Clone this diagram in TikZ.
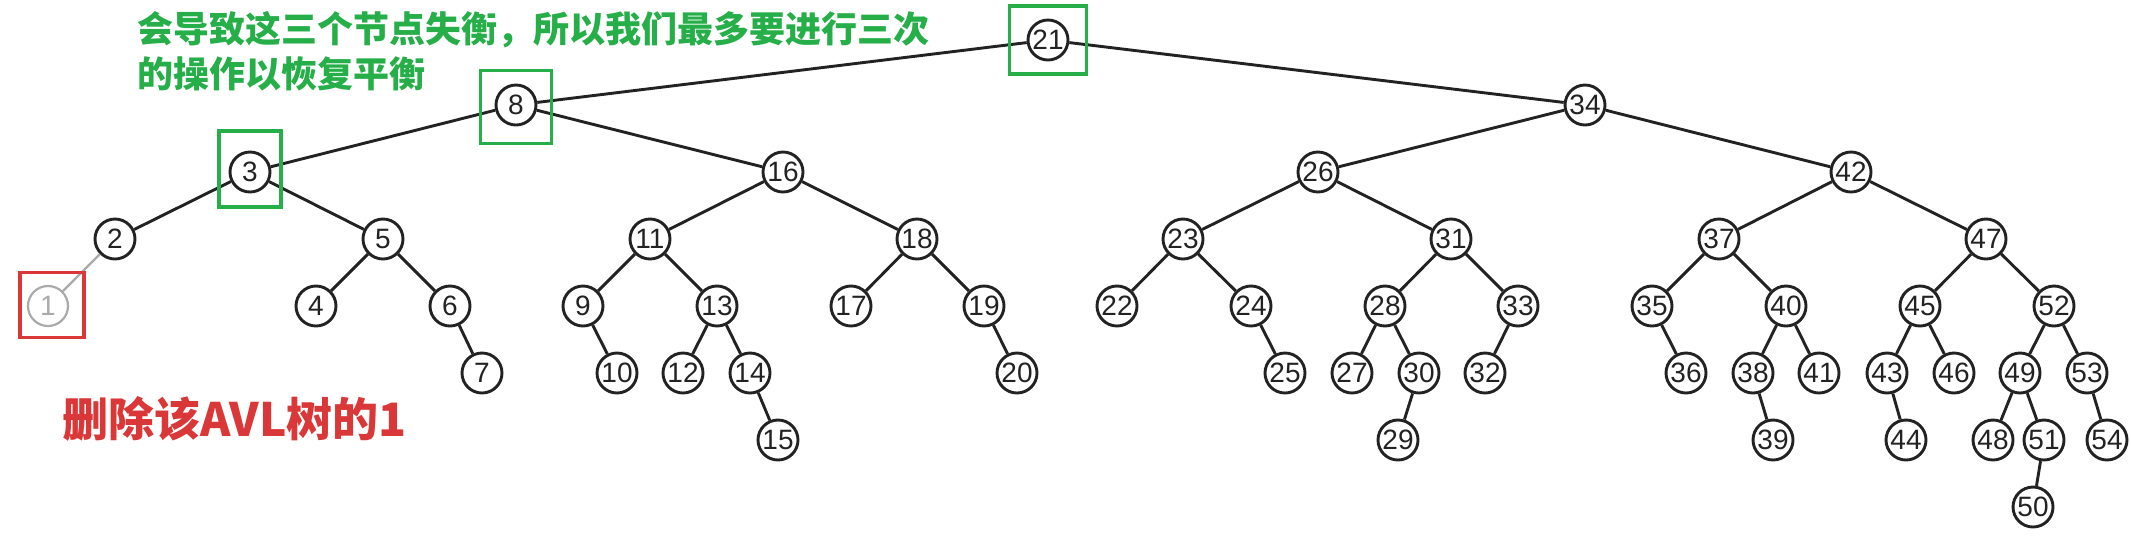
\documentclass[tikz,border=0pt]{standalone}
\usepackage{fontspec}
\usepackage{tikz}
\usetikzlibrary{positioning}
\setmainfont{Liberation Sans}
\newfontfamily\cjk{Noto Sans CJK SC}
\definecolor{treeline}{RGB}{34,34,34}
\definecolor{gonegray}{RGB}{170,170,170}
\definecolor{hlgreen}{RGB}{38,174,72}
\definecolor{hlred}{RGB}{218,56,56}
\tikzset{
  avl/.style={circle,draw=treeline,line width=1.45pt,fill=white,minimum size=20pt,
    inner sep=0pt,text=treeline,font=\fontsize{14pt}{15pt}\selectfont},
  gone/.style={avl,draw=gonegray,text=gonegray,line width=1.1pt},
  unbal/.style={draw=hlgreen,line width=1.6pt,inner sep=0pt},
  delbox/.style={draw=hlred,line width=1.6pt,inner sep=0pt},
}

\begin{document}
\begin{tikzpicture}[
  x=0.5pt,y=-0.5pt,
  every edge/.style={draw=treeline,line width=1.45pt}
]
\useasboundingbox (0,0) rectangle (2131,538);

% level 0 - 2
\node[avl] (n21) at (1048,40) {21};
\node[avl] (n8)  at (516,105) {8};
\node[avl] (n34) at (1585,105) {34};
\node[avl] (n3)  at (250,172) {3};
\node[avl] (n16) at (783,172) {16};
\node[avl] (n26) at (1318,172) {26};
\node[avl] (n42) at (1851,172) {42};

% level 3
\node[avl] (n2)  at (115,239) {2};
\node[avl] (n5)  at (383,239) {5};
\node[avl] (n11) at (650,239) {11};
\node[avl] (n18) at (917,239) {18};
\node[avl] (n23) at (1183,239) {23};
\node[avl] (n31) at (1451,239) {31};
\node[avl] (n37) at (1719,239) {37};
\node[avl] (n47) at (1986,239) {47};

% level 4
\node[gone] (n1) at (48,306) {1};
\node[avl] (n4)  at (316,306) {4};
\node[avl] (n6)  at (450,306) {6};
\node[avl] (n9)  at (583,306) {9};
\node[avl] (n13) at (717,306) {13};
\node[avl] (n17) at (851,306) {17};
\node[avl] (n19) at (984,306) {19};
\node[avl] (n22) at (1117,306) {22};
\node[avl] (n24) at (1251,306) {24};
\node[avl] (n28) at (1385,306) {28};
\node[avl] (n33) at (1518,306) {33};
\node[avl] (n35) at (1652,306) {35};
\node[avl] (n40) at (1786,306) {40};
\node[avl] (n45) at (1920,306) {45};
\node[avl] (n52) at (2054,306) {52};

% level 5
\node[avl] (n7)  at (482,373) {7};
\node[avl] (n10) at (617,373) {10};
\node[avl] (n12) at (683,373) {12};
\node[avl] (n14) at (750,373) {14};
\node[avl] (n20) at (1017,373) {20};
\node[avl] (n25) at (1285,373) {25};
\node[avl] (n27) at (1352,373) {27};
\node[avl] (n30) at (1419,373) {30};
\node[avl] (n32) at (1485,373) {32};
\node[avl] (n36) at (1686,373) {36};
\node[avl] (n38) at (1753,373) {38};
\node[avl] (n41) at (1819,373) {41};
\node[avl] (n43) at (1887,373) {43};
\node[avl] (n46) at (1954,373) {46};
\node[avl] (n49) at (2020,373) {49};
\node[avl] (n53) at (2087,373) {53};

% level 6 - 7
\node[avl] (n15) at (778,440) {15};
\node[avl] (n29) at (1398,440) {29};
\node[avl] (n39) at (1773,440) {39};
\node[avl] (n44) at (1906,440) {44};
\node[avl] (n48) at (1993,440) {48};
\node[avl] (n51) at (2044,440) {51};
\node[avl] (n54) at (2107,440) {54};
\node[avl] (n50) at (2033,507) {50};

\path
(n21) edge (n8)   (n21) edge (n34)
(n8)  edge (n3)   (n8)  edge (n16)
(n34) edge (n26)  (n34) edge (n42)
(n3)  edge (n2)   (n3)  edge (n5)
(n16) edge (n11)  (n16) edge (n18)
(n26) edge (n23)  (n26) edge (n31)
(n42) edge (n37)  (n42) edge (n47)
(n5)  edge (n4)   (n5)  edge (n6)   (n6)  edge (n7)
(n11) edge (n9)   (n11) edge (n13)  (n9)  edge (n10)
(n13) edge (n12)  (n13) edge (n14)  (n14) edge (n15)
(n18) edge (n17)  (n18) edge (n19)  (n19) edge (n20)
(n23) edge (n22)  (n23) edge (n24)  (n24) edge (n25)
(n31) edge (n28)  (n31) edge (n33)  (n33) edge (n32)
(n28) edge (n27)  (n28) edge (n30)  (n30) edge (n29)
(n37) edge (n35)  (n37) edge (n40)  (n35) edge (n36)
(n40) edge (n38)  (n40) edge (n41)  (n38) edge (n39)
(n47) edge (n45)  (n47) edge (n52)
(n45) edge (n43)  (n45) edge (n46)  (n43) edge (n44)
(n52) edge (n49)  (n52) edge (n53)  (n53) edge (n54)
(n49) edge (n48)  (n49) edge (n51)  (n51) edge (n50);
\path (n2) edge[draw=gonegray,line width=1.1pt] (n1);

% nodes that lose balance, and the deleted one
\node[unbal,minimum width=38.5pt,minimum height=34pt] (box21) at (n21) {};
\node[unbal,minimum width=35.5pt,minimum height=36.5pt] (box8) at (516,107) {};
\node[unbal,minimum width=31pt,minimum height=38pt] (box3) at (250,169) {};
\node[delbox,minimum width=32pt,minimum height=32.5pt] (box1) at (52,305) {};

\node[anchor=west,inner sep=0pt,align=left,text=hlgreen,
  font=\cjk\bfseries\fontsize{18pt}{22.5pt}\selectfont] (note) at (137,51)
  {会导致这三个节点失衡，所以我们最多要进行三次\\的操作以恢复平衡};
\node[anchor=west,inner sep=0pt,text=hlred,
  font=\cjk\bfseries\fontsize{23pt}{26pt}\selectfont] (title) at (62,419)
  {删除该AVL树的1};
\end{tikzpicture}
\end{document}
